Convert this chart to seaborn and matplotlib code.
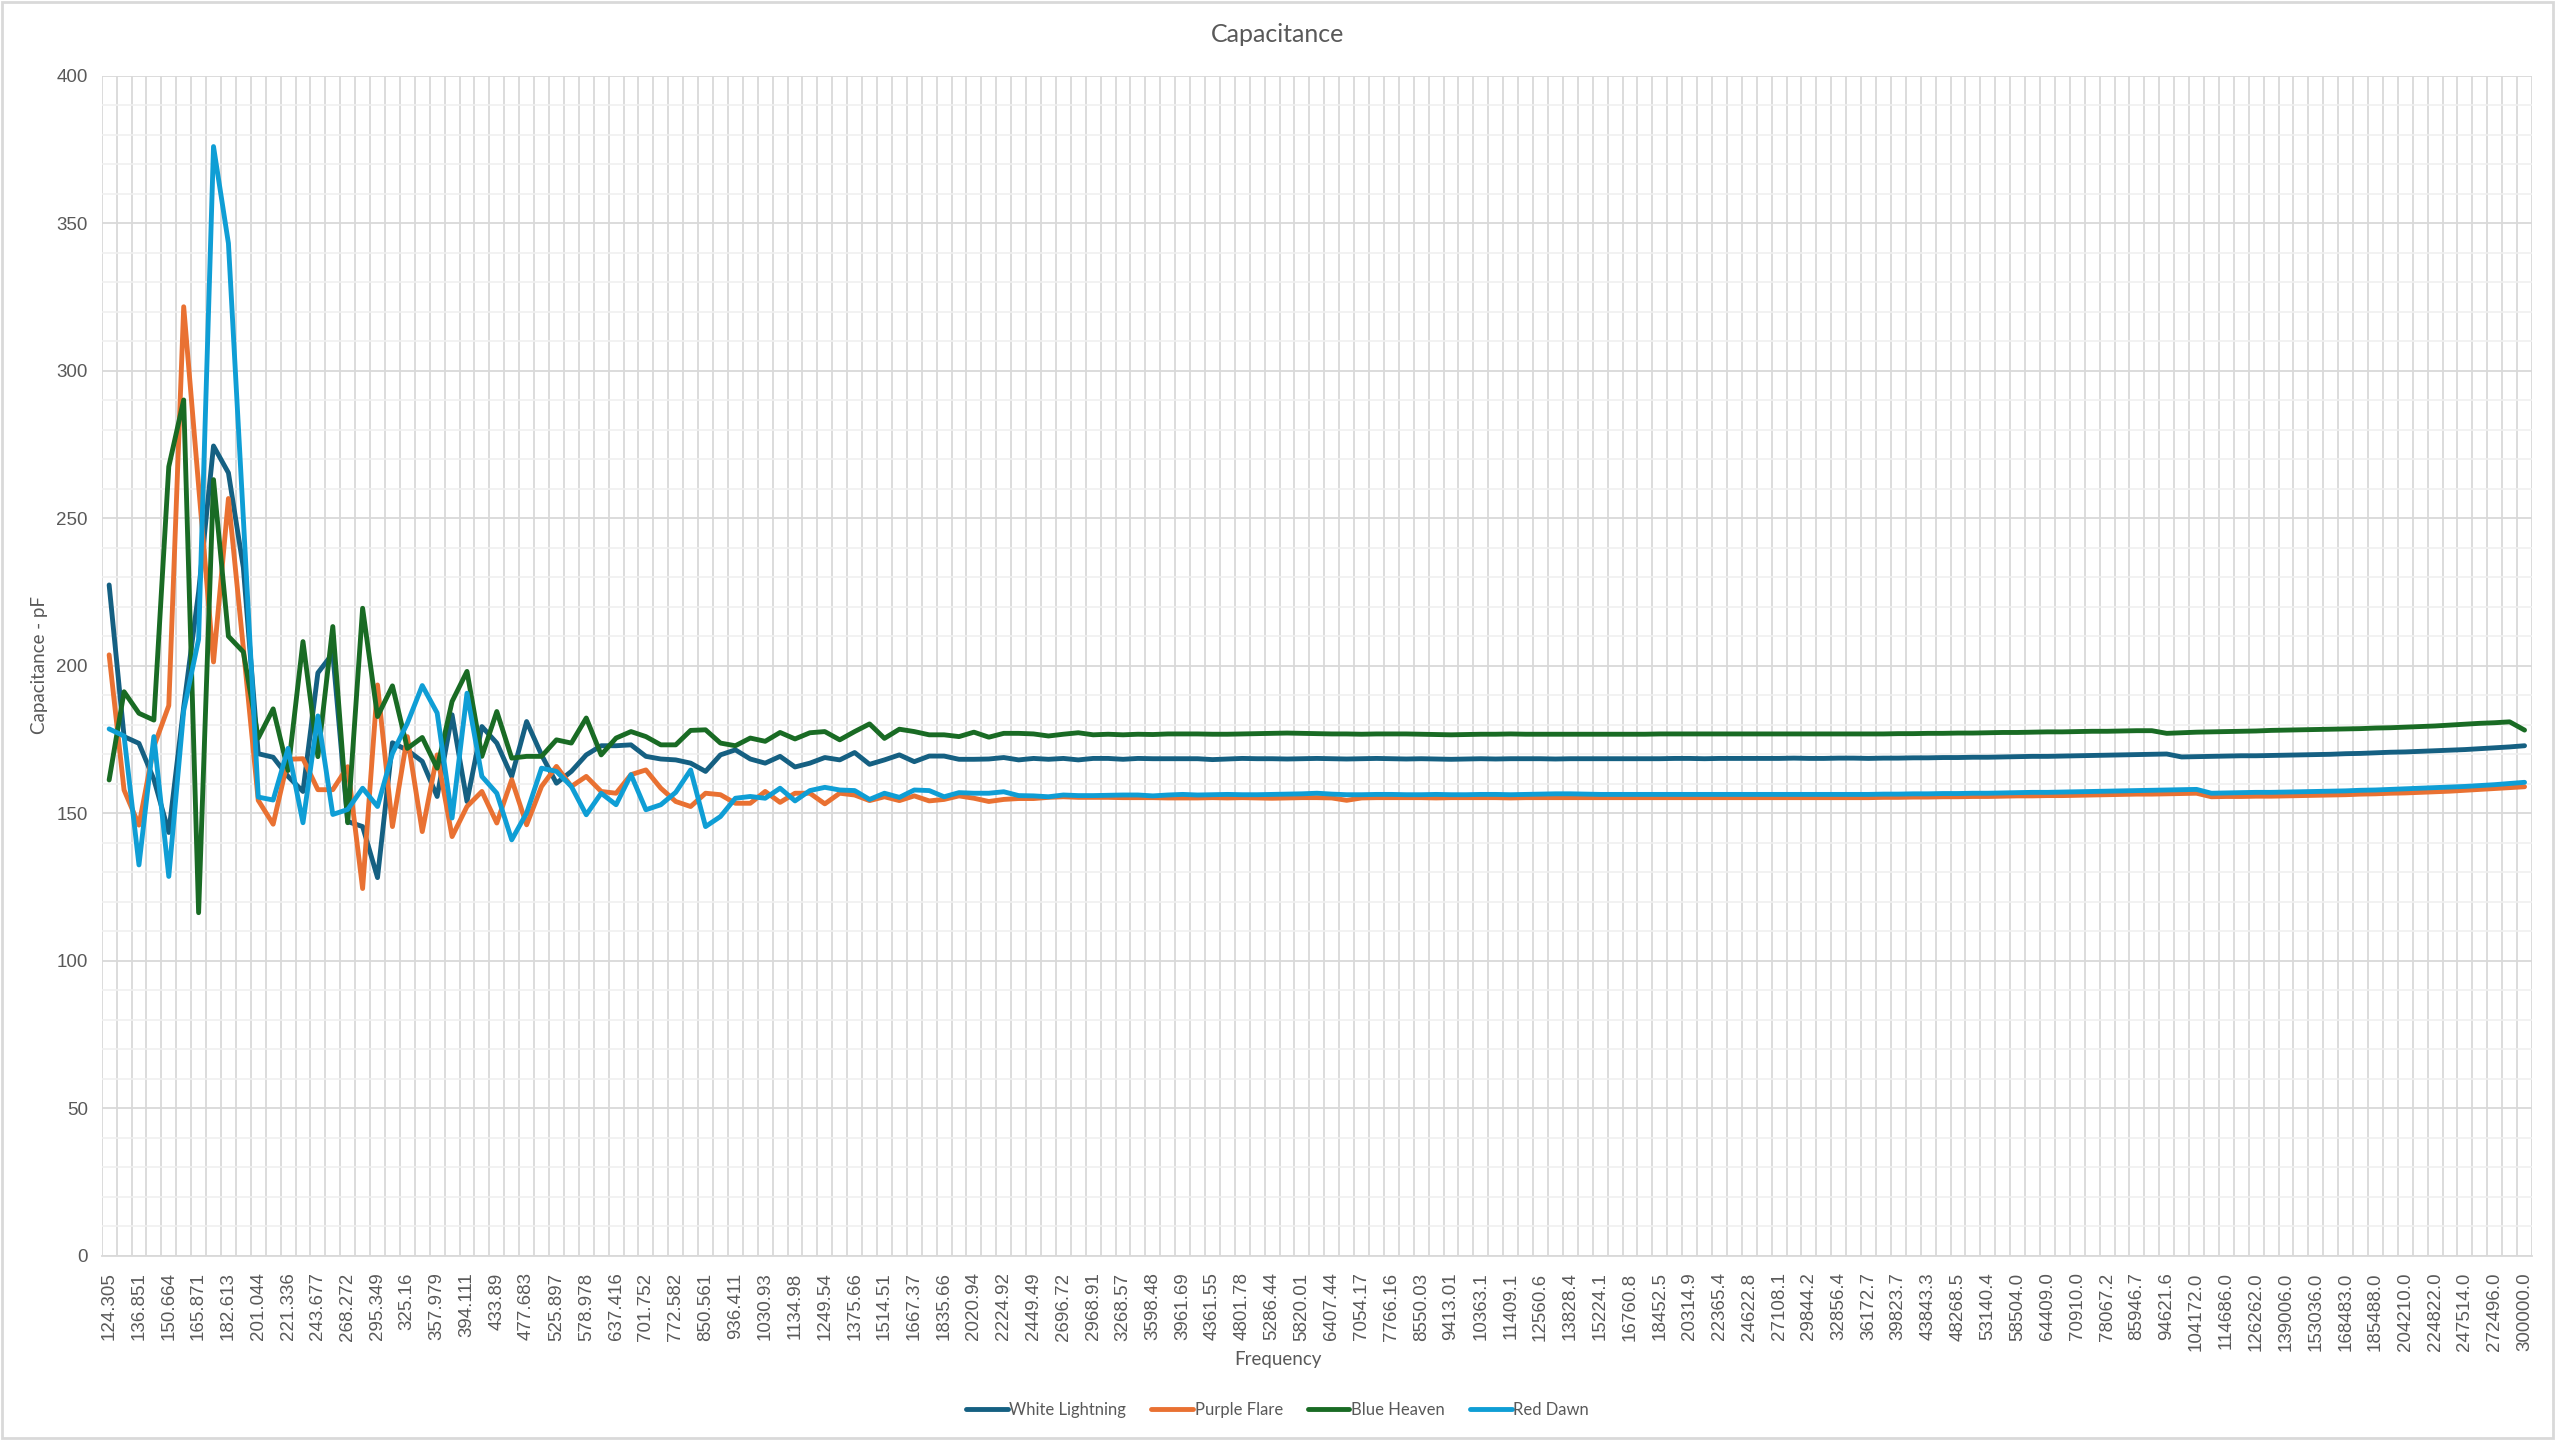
import pandas as pd
import seaborn as sns
import matplotlib.pyplot as plt
from matplotlib.ticker import MultipleLocator, FixedLocator
from matplotlib.patches import Rectangle

# Frequency labels shown on the category axis (every second category)
freq_labels = ["124.305", "136.851", "150.664", "165.871", "182.613", "201.044", "221.336", "243.677",
               "268.272", "295.349", "325.16", "357.979", "394.111", "433.89", "477.683", "525.897",
               "578.978", "637.416", "701.752", "772.582", "850.561", "936.411", "1030.93", "1134.98",
               "1249.54", "1375.66", "1514.51", "1667.37", "1835.66", "2020.94", "2224.92", "2449.49",
               "2696.72", "2968.91", "3268.57", "3598.48", "3961.69", "4361.55", "4801.78", "5286.44",
               "5820.01", "6407.44", "7054.17", "7766.16", "8550.03", "9413.01", "10363.1", "11409.1",
               "12560.6", "13828.4", "15224.1", "16760.8", "18452.5", "20314.9", "22365.4", "24622.8",
               "27108.1", "29844.2", "32856.4", "36172.7", "39823.7", "43843.3", "48268.5", "53140.4",
               "58504.0", "64409.0", "70910.0", "78067.2", "85946.7", "94621.6", "104172.0", "114686.0",
               "126262.0", "139006.0", "153036.0", "168483.0", "185488.0", "204210.0", "224822.0",
               "247514.0", "272496.0", "300000.0"]

white_lightning = [
    227.4, 176.0, 173.7, 161.5, 143.5, 186.0, 225.0, 274.5, 265.4, 233.3,
    170.2, 169.0, 162.5, 157.4, 197.6, 204.2, 147.2, 145.5, 128.2, 173.9,
    171.4, 167.6, 155.7, 183.4, 154.0, 179.4, 173.8, 162.5, 181.1, 169.8,
    160.2, 164.2, 169.8, 172.9, 172.9, 173.2, 169.3, 168.4, 168.1, 167.0,
    164.2, 169.8, 171.5, 168.4, 167.0, 169.3, 165.7, 167.0, 168.9, 168.1,
    170.6, 166.6, 168.1, 169.8, 167.5, 169.4, 169.4, 168.3, 168.3, 168.4,
    168.9, 168.1, 168.6, 168.3, 168.6, 168.1, 168.6, 168.6, 168.3, 168.6,
    168.5, 168.5, 168.5, 168.5, 168.2, 168.4, 168.6, 168.5, 168.5, 168.4,
    168.5, 168.6, 168.5, 168.4, 168.5, 168.6, 168.5, 168.4, 168.5, 168.4,
    168.3, 168.4, 168.5, 168.4, 168.5, 168.5, 168.5, 168.4, 168.5, 168.5,
    168.5, 168.5, 168.5, 168.5, 168.5, 168.6, 168.6, 168.5, 168.6, 168.6,
    168.6, 168.6, 168.6, 168.7, 168.6, 168.6, 168.7, 168.7, 168.6, 168.7,
    168.7, 168.8, 168.8, 168.9, 168.9, 169.0, 169.0, 169.1, 169.2, 169.3,
    169.3, 169.4, 169.5, 169.6, 169.7, 169.8, 169.9, 170.0, 170.1, 169.1,
    169.2, 169.3, 169.4, 169.5, 169.5, 169.6, 169.7, 169.8, 169.9, 170.0,
    170.2, 170.3, 170.5, 170.7, 170.8, 171.0, 171.2, 171.4, 171.6, 171.9,
    172.2, 172.5, 172.9]

purple_flare = [
    203.7, 157.9, 146.0, 172.6, 186.5, 321.7, 261.0, 201.3, 256.7, 206.0,
    154.4, 146.3, 168.3, 168.5, 158.0, 158.0, 165.8, 124.5, 193.5, 145.5,
    176.0, 143.8, 169.8, 142.1, 152.3, 157.4, 146.7, 161.4, 146.1, 159.1,
    165.9, 159.1, 162.5, 157.4, 156.8, 163.1, 164.7, 158.5, 154.0, 152.3,
    156.8, 156.3, 153.4, 153.4, 157.4, 153.7, 156.8, 156.8, 153.2, 156.8,
    156.2, 154.3, 155.6, 154.3, 155.9, 154.2, 154.7, 155.9, 155.1, 154.0,
    154.7, 155.0, 155.0, 155.4, 155.6, 155.4, 155.4, 155.4, 155.3, 155.3,
    155.3, 155.2, 155.2, 155.2, 155.3, 155.2, 155.3, 155.2, 155.1, 155.2,
    155.3, 155.3, 155.2, 154.4, 155.2, 155.3, 155.3, 155.3, 155.3, 155.2,
    155.3, 155.3, 155.3, 155.3, 155.2, 155.3, 155.3, 155.3, 155.3, 155.3,
    155.3, 155.3, 155.3, 155.3, 155.3, 155.3, 155.3, 155.3, 155.3, 155.3,
    155.3, 155.3, 155.3, 155.3, 155.3, 155.3, 155.3, 155.3, 155.3, 155.4,
    155.4, 155.5, 155.5, 155.6, 155.6, 155.7, 155.7, 155.8, 155.9, 155.9,
    156.0, 156.0, 156.1, 156.2, 156.3, 156.4, 156.5, 156.5, 156.6, 156.7,
    156.8, 155.6, 155.7, 155.7, 155.8, 155.8, 155.9, 156.0, 156.1, 156.2,
    156.3, 156.5, 156.6, 156.8, 156.9, 157.1, 157.3, 157.5, 157.8, 158.1,
    158.4, 158.7, 159.0]

blue_heaven = [
    161.3, 191.2, 183.9, 181.6, 267.5, 290.1, 116.3, 263.1, 210.0, 204.7,
    175.5, 185.4, 164.5, 208.2, 169.2, 213.3, 146.8, 219.5, 182.8, 193.2,
    172.0, 175.7, 165.3, 187.9, 198.1, 169.3, 184.5, 168.7, 169.3, 169.3,
    174.9, 173.8, 182.3, 169.8, 175.5, 177.7, 176.0, 173.2, 173.2, 178.1,
    178.3, 173.8, 172.9, 175.5, 174.4, 177.4, 175.2, 177.3, 177.7, 174.9,
    177.7, 180.3, 175.4, 178.5, 177.7, 176.6, 176.6, 176.0, 177.5, 175.8,
    177.1, 177.1, 176.9, 176.2, 176.8, 177.3, 176.6, 176.8, 176.6, 176.8,
    176.7, 176.9, 176.9, 176.9, 176.8, 176.8, 176.9, 177.0, 177.1, 177.2,
    177.1, 177.0, 176.9, 176.9, 176.8, 176.9, 176.9, 176.9, 176.8, 176.7,
    176.6, 176.7, 176.8, 176.8, 176.9, 176.8, 176.8, 176.8, 176.8, 176.8,
    176.8, 176.8, 176.8, 176.8, 176.9, 176.9, 176.9, 176.9, 176.9, 176.9,
    176.9, 176.9, 176.9, 176.9, 176.9, 176.9, 176.9, 176.9, 176.9, 176.9,
    177.0, 177.0, 177.1, 177.1, 177.2, 177.2, 177.3, 177.4, 177.4, 177.5,
    177.6, 177.6, 177.7, 177.8, 177.8, 177.9, 178.0, 178.0, 177.1, 177.3,
    177.5, 177.6, 177.7, 177.8, 177.9, 178.1, 178.2, 178.3, 178.4, 178.5,
    178.6, 178.7, 178.9, 179.0, 179.2, 179.4, 179.6, 179.9, 180.2, 180.5,
    180.7, 181.0, 178.2]

red_dawn = [
    178.6, 176.2, 132.5, 176.0, 128.6, 184.8, 209.0, 376.0, 343.2, 250.0,
    155.5, 154.5, 172.0, 146.8, 183.0, 149.6, 151.3, 158.5, 152.3, 170.3,
    180.5, 193.3, 184.0, 148.4, 190.7, 162.5, 156.8, 141.0, 150.1, 165.3,
    164.2, 159.1, 149.5, 156.8, 152.9, 163.1, 151.2, 152.9, 157.1, 164.7,
    145.5, 148.9, 155.1, 155.7, 155.1, 158.5, 154.2, 157.7, 158.8, 157.9,
    157.7, 154.7, 156.8, 155.4, 157.9, 157.7, 155.6, 157.0, 156.8, 156.8,
    157.3, 156.0, 155.9, 155.6, 156.2, 156.0, 156.0, 156.1, 156.2, 156.2,
    155.9, 156.2, 156.4, 156.2, 156.3, 156.4, 156.3, 156.3, 156.4, 156.5,
    156.6, 156.8, 156.5, 156.3, 156.3, 156.4, 156.4, 156.3, 156.3, 156.4,
    156.3, 156.3, 156.4, 156.4, 156.3, 156.4, 156.5, 156.6, 156.6, 156.5,
    156.4, 156.4, 156.4, 156.4, 156.4, 156.4, 156.4, 156.4, 156.4, 156.4,
    156.4, 156.4, 156.4, 156.4, 156.4, 156.4, 156.4, 156.4, 156.4, 156.5,
    156.5, 156.6, 156.6, 156.7, 156.7, 156.8, 156.8, 156.9, 157.0, 157.1,
    157.1, 157.2, 157.3, 157.4, 157.5, 157.6, 157.7, 157.8, 157.9, 158.0,
    158.1, 156.8, 156.9, 157.0, 157.1, 157.1, 157.2, 157.3, 157.4, 157.5,
    157.6, 157.8, 157.9, 158.1, 158.3, 158.5, 158.7, 158.9, 159.1, 159.4,
    159.7, 160.1, 160.5]

series_names = ["White Lightning", "Purple Flare", "Blue Heaven", "Red Dawn"]
palette = ["#156082", "#E97132", "#196B24", "#0F9ED5"]

rows = []
for name, vals in zip(series_names, [white_lightning, purple_flare, blue_heaven, red_dawn]):
    for i, v in enumerate(vals):
        rows.append({"pos": i, "value": v, "series": name})
df = pd.DataFrame(rows)
n_cat = len(white_lightning)

sns.set_theme(style="white")
plt.rcParams['font.family'] = ['Lato', 'DejaVu Sans']
text_col = "#595959"
grid_col = "#d9d9d9"

fig = plt.figure(figsize=(25.55, 14.4), dpi=100)
ax = fig.add_axes([0.0398, 0.1279, 0.9512, 0.8195])

sns.lineplot(data=df, x="pos", y="value", hue="series", hue_order=series_names,
             palette=palette, linewidth=3.5, errorbar=None, ax=ax,
             solid_joinstyle="round", solid_capstyle="round")

ax.set_xlim(-0.5, n_cat - 0.5)
ax.set_ylim(0, 400)

# category axis: labels on every second category, gridlines on category boundaries
ax.xaxis.set_major_locator(FixedLocator(list(range(0, n_cat, 2))))
ax.set_xticklabels(freq_labels, rotation=90, fontsize=13.5, color=text_col,
                   family=['Liberation Sans', 'DejaVu Sans'])
ax.xaxis.set_minor_locator(FixedLocator([i - 0.5 for i in range(n_cat + 1)]))
ax.tick_params(axis="x", which="major", length=0, pad=12)
ax.tick_params(axis="x", which="minor", length=5, color=grid_col, width=1.2)
ax.grid(axis="x", which="minor", color=grid_col, linewidth=1.3)
ax.grid(axis="x", which="major", visible=False)

ax.yaxis.set_major_locator(MultipleLocator(50))
ax.yaxis.set_minor_locator(MultipleLocator(10))
ax.grid(axis="y", which="major", color=grid_col, linewidth=1.3)
ax.grid(axis="y", which="minor", color="#f0f0f0", linewidth=1.2)
ax.tick_params(axis="y", which="both", length=0, pad=10)
for lab in ax.get_yticklabels():
    lab.set_fontsize(13.5)
    lab.set_color(text_col)
    lab.set_family(['Liberation Sans', 'DejaVu Sans'])
ax.set_axisbelow(True)

for side in ["top", "right", "left"]:
    ax.spines[side].set_visible(False)
ax.spines["bottom"].set_color(grid_col)
ax.spines["bottom"].set_linewidth(1.3)

ax.set_xlabel("")
ax.set_ylabel("")
fig.text(0.5, 0.976, "Capacitance", ha="center", va="center", fontsize=18, color=text_col)
fig.text(0.5, 0.056, "Frequency", ha="center", va="center", fontsize=13.5, color=text_col)
fig.text(0.0153, 0.538, "Capacitance - pF", ha="center", va="center", rotation=90,
         fontsize=13.5, color=text_col)

sns.move_legend(ax, "center", bbox_to_anchor=(0.5, 0.021), bbox_transform=fig.transFigure,
                ncol=4, frameon=False, title=None, fontsize=12, handlelength=2.5,
                handletextpad=0.1, columnspacing=1.5)
for t in ax.get_legend().get_texts():
    t.set_color(text_col)

fig.patches.append(Rectangle((0.0008, 0.0012), 0.9984, 0.9976, transform=fig.transFigure,
                             fill=False, edgecolor=grid_col, linewidth=2))

fig.savefig("out.png", dpi=100, facecolor="white")
